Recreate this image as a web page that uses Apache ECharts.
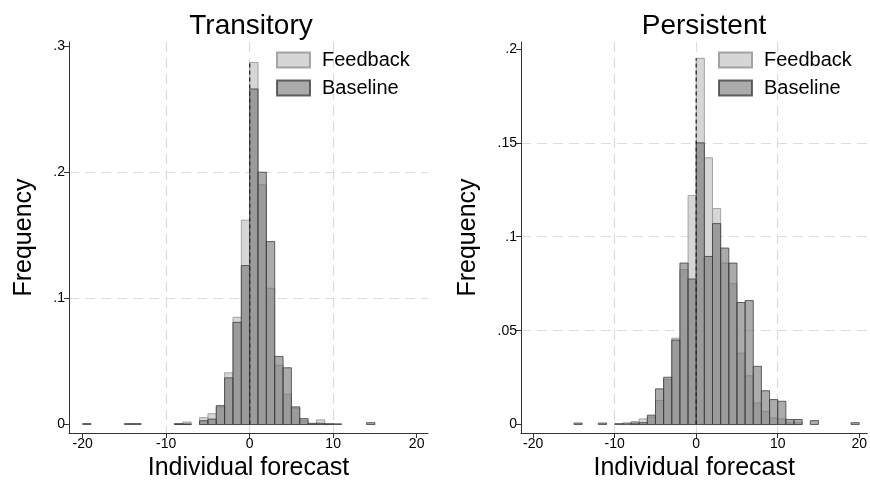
<!DOCTYPE html>
<html><head><meta charset="utf-8">
<script src="https://cdn.jsdelivr.net/npm/echarts@6/dist/echarts.min.js"></script>
<style>html,body{margin:0;padding:0;background:#fff}#c{width:870px;height:487px}</style>
</head><body><div id="c"></div>
<script>
// Bins of width 1, starting at -20 ... 19
const binWidth = 1;
const binStarts = [-20,-19,-18,-17,-16,-15,-14,-13,-12,-11,-10,-9,-8,-7,-6,-5,-4,-3,-2,-1,0,1,2,3,4,5,6,7,8,9,10,11,12,13,14,15,16,17,18,19];

const transitoryFeedback = [0,0,0,0,0,0,0,0,0,0, 0,0.0008,0.002,0,0.0055,0.0086,0.014,0.041,0.085,0.162, 0.287,0.19,0.108,0.047,0.024,0.013,0.003,0.0005,0.0037,0.0006, 0,0,0,0,0,0,0,0,0,0];
const transitoryBaseline = [0.0008,0,0,0,0,0.0008,0.0008,0,0,0, 0,0.0006,0.0005,0,0.003,0.0043,0.015,0.037,0.081,0.126, 0.266,0.20,0.145,0.054,0.045,0.014,0.0047,0.001,0.001,0.0006, 0.0006,0,0,0,0.0015,0,0,0,0,0];
const persistentFeedback = [0,0,0,0,0,0,0,0,0,0, 0,0,0.0016,0.003,0.004,0.0128,0.024,0.046,0.0825,0.122, 0.195,0.142,0.115,0.086,0.075,0.038,0.026,0.0115,0.007,0.0035, 0.003,0.001,0.001,0,0,0,0,0,0,0];
const persistentBaseline = [0,0,0,0,0,0.0008,0,0,0.0008,0, 0.0005,0.0008,0.0008,0.001,0.005,0.019,0.0252,0.045,0.086,0.0775, 0.150,0.0895,0.107,0.094,0.086,0.065,0.066,0.031,0.018,0.0133, 0.0124,0.0027,0.0027,0,0.0021,0,0,0,0,0.001];

const xTicks = [-20,-10,0,10,20];
const yTicksTransitory = [0,0.1,0.2,0.3];
const yTicksPersistent = [0,0.05,0.1,0.15,0.2];
const panelTitles = ['Transitory','Persistent'];
const seriesNames = ['Feedback','Baseline'];
const xTitle = 'Individual forecast';
const yTitle = 'Frequency';

const FONT = '"Liberation Sans", Arial, Helvetica, sans-serif';

function toPairs(vals){ return binStarts.map((b,i)=>[b, vals[i]]).filter(p=>p[1]>0); }
function zeroEdgeHeight(a, b){ const i = binStarts.indexOf(0); return Math.max(a[i-1], a[i], b[i-1], b[i]); }

function barItem(params, api){
  const x0 = api.value(0), h = api.value(1);
  const p = api.coord([x0, 0]), q = api.coord([x0 + binWidth, h]);
  return {type:'rect', shape:{x:p[0], y:q[1], width:q[0]-p[0], height:p[1]-q[1]}, style: api.style()};
}
function zeroLineItem(params, api){
  const p = api.coord([api.value(0), 0]), q = api.coord([api.value(0), api.value(1)]);
  return {type:'line', shape:{x1:p[0], y1:p[1], x2:q[0], y2:q[1]}, style:{stroke:'#2a2a2a', lineWidth:1.3, lineDash:[4,3]}};
}
const fbStyle = {color:'rgba(200,200,200,0.75)', borderColor:'rgba(150,150,150,0.85)', borderWidth:1};
const blStyle = {color:'rgba(120,120,120,0.62)', borderColor:'rgba(55,55,55,0.75)', borderWidth:1};
const gridLine = {color:'#dcdcdc', type:[10,6], width:1.2};

function yFmt(v){ return v === 0 ? '0' : String(+v.toFixed(4)).replace(/^0(?=\.)/, ''); }

function xAxis(gi, min, max){
  return { gridIndex: gi, type:'value', min, max, splitNumber:4,
    name: xTitle, nameLocation:'middle', nameGap: 23,
    nameTextStyle:{fontSize:25, color:'#000', fontFamily:FONT},
    axisLine:{show:true, onZero:false, lineStyle:{color:'#333', width:1}},
    axisTick:{show:true, length:5, customValues:xTicks, lineStyle:{color:'#333'}},
    axisLabel:{customValues:xTicks, fontSize:14, color:'#000', margin:4, fontFamily:FONT},
    splitLine:{show:true, showMinLine:false, showMaxLine:false, lineStyle:gridLine} };
}
function yAxis(gi, min, max, split, ticks, gap){
  return { gridIndex: gi, type:'value', min, max, splitNumber:split,
    name: yTitle, nameLocation:'middle', nameGap: gap,
    nameTextStyle:{fontSize:25, color:'#000', fontFamily:FONT},
    axisLine:{show:true, onZero:false, lineStyle:{color:'#333', width:1}},
    axisTick:{show:true, length:5, customValues:ticks, lineStyle:{color:'#333'}},
    axisLabel:{customValues:ticks, fontSize:14, color:'#000', margin:4, fontFamily:FONT, formatter:yFmt},
    splitLine:{show:true, showMinLine:false, showMaxLine:false, lineStyle:gridLine} };
}
function legend(left){
  return { orient:'vertical', left, top:50, padding:0, itemGap:8, itemWidth:33, itemHeight:15, icon:'rect',
    data: seriesNames, selectedMode:false,
    textStyle:{fontSize:20, color:'#000', fontFamily:FONT, padding:[0,0,0,7]} };
}

const chart = echarts.init(document.getElementById('c'), null, {renderer:'canvas'});
chart.setOption({
  animation:false,
  backgroundColor:'#fff',
  title:[
    {text:panelTitles[0], left:246, top:7, textAlign:'center', textStyle:{fontSize:28, fontWeight:'normal', color:'#000', fontFamily:FONT}},
    {text:panelTitles[1], left:699, top:7, textAlign:'center', textStyle:{fontSize:28, fontWeight:'normal', color:'#000', fontFamily:FONT}}
  ],
  legend:[legend(276), legend(718)],
  grid:[
    {left:69, top:42, width:359, height:391},
    {left:521, top:42, width:347, height:391}
  ],
  xAxis:[xAxis(0, -21.64, 21.36), xAxis(1, -21.5, 21)],
  yAxis:[yAxis(0, -0.0067, 0.3032, 3, yTicksTransitory, 32), yAxis(1, -0.0045, 0.2037, 4, yTicksPersistent, 40)],
  series:[
    {type:'custom', name:seriesNames[0], xAxisIndex:0, yAxisIndex:0, renderItem:barItem, itemStyle:fbStyle, data:toPairs(transitoryFeedback), z:2},
    {type:'custom', name:seriesNames[1], xAxisIndex:0, yAxisIndex:0, renderItem:barItem, itemStyle:blStyle, data:toPairs(transitoryBaseline), z:3},
    {type:'custom', name:'zero-left', xAxisIndex:0, yAxisIndex:0, renderItem:zeroLineItem, data:[[0, zeroEdgeHeight(transitoryFeedback, transitoryBaseline)]], z:4, silent:true},
    {type:'custom', name:seriesNames[0], xAxisIndex:1, yAxisIndex:1, renderItem:barItem, itemStyle:fbStyle, data:toPairs(persistentFeedback), z:2},
    {type:'custom', name:seriesNames[1], xAxisIndex:1, yAxisIndex:1, renderItem:barItem, itemStyle:blStyle, data:toPairs(persistentBaseline), z:3},
    {type:'custom', name:'zero-right', xAxisIndex:1, yAxisIndex:1, renderItem:zeroLineItem, data:[[0, zeroEdgeHeight(persistentFeedback, persistentBaseline)]], z:4, silent:true}
  ]
});
</script></body></html>
